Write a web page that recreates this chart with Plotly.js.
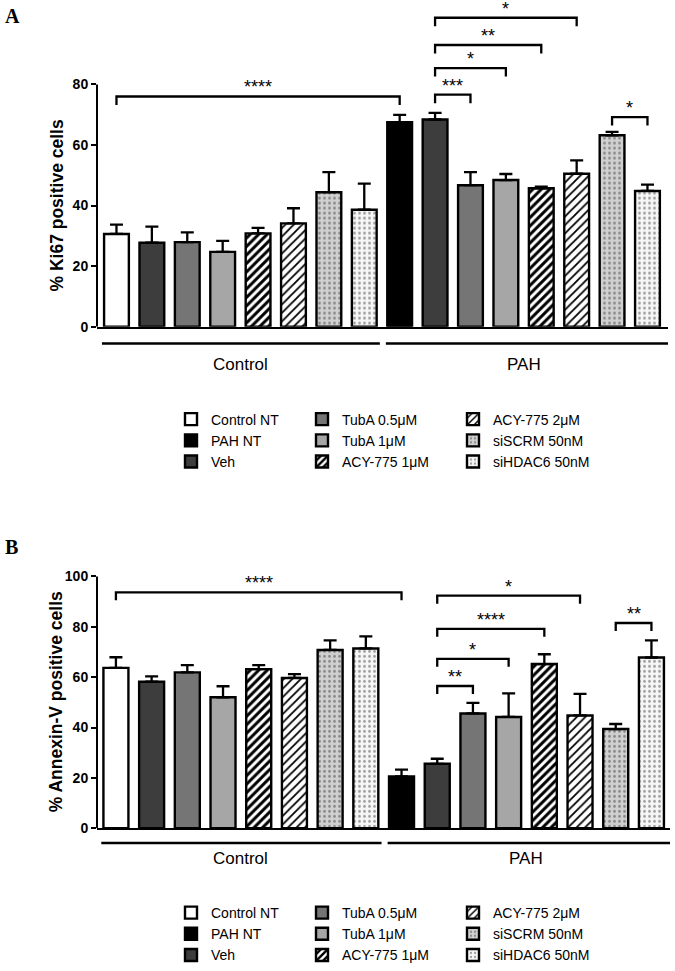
<!DOCTYPE html>
<html>
<head>
<meta charset="utf-8">
<script src="https://cdn.plot.ly/plotly-3.0.1.min.js"></script>
<style>
  body { margin: 0; background: #fff; }
  #graph { width: 675px; height: 971px; }
</style>
</head>
<body>
<div id="graph"></div>
<script>
// Donnees
var groups = ['Control', 'PAH'];
var treatments = ['Control NT', 'PAH NT', 'Veh', 'TubA 0.5\u03bcM', 'TubA 1\u03bcM', 'ACY-775 1\u03bcM', 'ACY-775 2\u03bcM', 'siSCRM 50nM', 'siHDAC6 50nM'];

// ordre des barres (gauche -> droite)
var barTreatment = ['Control NT', 'Veh', 'TubA 0.5\u03bcM', 'TubA 1\u03bcM', 'ACY-775 1\u03bcM', 'ACY-775 2\u03bcM', 'siSCRM 50nM', 'siHDAC6 50nM',
                    'PAH NT', 'Veh', 'TubA 0.5\u03bcM', 'TubA 1\u03bcM', 'ACY-775 1\u03bcM', 'ACY-775 2\u03bcM', 'siSCRM 50nM', 'siHDAC6 50nM'];
var barGroup = ['Control', 'Control', 'Control', 'Control', 'Control', 'Control', 'Control', 'Control',
                'PAH', 'PAH', 'PAH', 'PAH', 'PAH', 'PAH', 'PAH', 'PAH'];

// A : % Ki67
var ki67Mean = [30.6, 27.7, 27.9, 24.7, 30.8, 34.1, 44.4, 38.6, 67.5, 68.4, 46.7, 48.4, 45.7, 50.5, 63.2, 44.8];
var ki67Sem = [3.1, 5.3, 3.2, 3.6, 1.8, 5.0, 6.6, 8.6, 2.4, 2.2, 4.3, 2.0, 0.5, 4.4, 1.1, 2.1];
var ki67Ticks = [0, 20, 40, 60, 80];
// [barre debut, barre fin, etoiles, hauteur]
var ki67Stats = [[0, 8, '****', 76.0], [9, 10, '***', 76.6], [9, 11, '*', 85.4], [9, 12, '**', 93.0], [9, 13, '*', 102.0], [14, 15, '*', 69.2]];

// B : % Annexin-V
var annexinMean = [63.7, 58.2, 61.9, 52.0, 63.2, 59.7, 70.8, 71.4, 20.6, 25.6, 45.6, 44.2, 65.2, 44.8, 39.4, 67.8];
var annexinSem = [4.2, 2.1, 2.9, 4.4, 1.6, 1.5, 3.8, 4.8, 2.7, 2.0, 4.2, 9.4, 3.9, 8.6, 2.0, 6.8];
var annexinTicks = [0, 20, 40, 60, 80, 100];
var annexinStats = [[0, 8, '****', 93.7], [9, 10, '**', 56.5], [9, 11, '*', 67.3], [9, 12, '****', 79.2], [9, 13, '*', 92.4], [14, 15, '**', 81.5]];

var W = 675, H = 971;
function px(x) { return x / W; }
function py(y) { return (H - y) / H; }

var FONT = 'Liberation Sans, Arial, sans-serif';

// style de chaque traitement
var styles = {
  'Control NT':   { color: '#ffffff' },
  'PAH NT':       { color: '#000000' },
  'Veh':          { color: '#3d3d3d' },
  'TubA 0.5\u03bcM': { color: '#757575' },
  'TubA 1\u03bcM':   { color: '#a6a6a6' },
  'ACY-775 1\u03bcM': { color: '#ffffff', pattern: { shape: '/', bgcolor: '#ffffff', fgcolor: '#000000', size: 6, solidity: 0.5 } },
  'ACY-775 2\u03bcM': { color: '#ffffff', pattern: { shape: '/', bgcolor: '#ffffff', fgcolor: '#000000', size: 6, solidity: 0.3 } },
  'siSCRM 50nM':  { color: '#d0d0d0', pattern: { shape: '.', bgcolor: '#d0d0d0', fgcolor: '#8a8a8a', size: 5, solidity: 0.25 } },
  'siHDAC6 50nM': { color: '#f6f6f6', pattern: { shape: '.', bgcolor: '#f6f6f6', fgcolor: '#a0a0a0', size: 5, solidity: 0.25 } }
};

function makeTraces(means, sems, xa, ya, legendIds) {
  var traces = [];
  for (var t = 0; t < treatments.length; t++) {
    var name = treatments[t];
    var xs = [], ys = [], es = [], zs = [];
    for (var i = 0; i < barTreatment.length; i++) {
      if (barTreatment[i] === name) {
        xs.push(i); ys.push(means[i]); es.push(sems[i]); zs.push(0);
      }
    }
    var st = styles[name];
    var marker = { color: st.color, line: { color: '#000', width: 2.4 } };
    if (st.pattern) marker.pattern = st.pattern;
    traces.push({
      type: 'bar', name: name, x: xs, y: ys, width: 0.7,
      xaxis: xa, yaxis: ya,
      legend: legendIds[Math.floor(t / 3)],
      marker: marker,
      error_y: { type: 'data', symmetric: false, array: es, arrayminus: zs, color: '#000', thickness: 2.3, width: 6.5 }
    });
  }
  return traces;
}

function addStats(stats, xa, ya, drop, shapes, annotations) {
  for (var k = 0; k < stats.length; k++) {
    var s = stats[k];
    shapes.push({
      type: 'path', xref: xa, yref: ya,
      path: 'M' + s[0] + ',' + (s[3] - drop) + ' L' + s[0] + ',' + s[3] + ' L' + s[1] + ',' + s[3] + ' L' + s[1] + ',' + (s[3] - drop),
      line: { color: '#000', width: 2.3 }
    });
    annotations.push({
      xref: xa, yref: ya, x: (s[0] + s[1]) / 2, y: s[3], text: s[2], showarrow: false,
      xanchor: 'center', yanchor: 'bottom', yshift: -3, font: { family: FONT, size: 18, color: '#000' }
    });
  }
}

var data = makeTraces(ki67Mean, ki67Sem, 'x', 'y', ['legend', 'legend2', 'legend3'])
  .concat(makeTraces(annexinMean, annexinSem, 'x2', 'y2', ['legend4', 'legend5', 'legend6']));

var shapes = [];
var annotations = [];

// axes y dessines jusqu'au dernier tick
shapes.push({ type: 'line', xref: 'paper', yref: 'y', x0: px(97), x1: px(97), y0: 0, y1: 80, line: { color: '#000', width: 2 } });
shapes.push({ type: 'line', xref: 'paper', yref: 'y2', x0: px(97), x1: px(97), y0: 0, y1: 100, line: { color: '#000', width: 2 } });

// traits de groupe Control / PAH
var groupLines = [[-0.41, 7.44], [7.61, 15.58]];
for (var g = 0; g < groups.length; g++) {
  shapes.push({ type: 'line', xref: 'x', yref: 'paper', x0: groupLines[g][0], x1: groupLines[g][1], y0: py(346), y1: py(346), line: { color: '#000', width: 2.5 } });
  shapes.push({ type: 'line', xref: 'x2', yref: 'paper', x0: groupLines[g][0], x1: groupLines[g][1], y0: py(849), y1: py(849), line: { color: '#000', width: 2.5 } });
  annotations.push({ xref: 'x', yref: 'paper', x: 3.5 + 8 * g, y: py(367), xanchor: 'center', yanchor: 'middle', text: groups[g], showarrow: false, font: { family: FONT, size: 17, color: '#000' } });
  annotations.push({ xref: 'x2', yref: 'paper', x: 3.5 + 8 * g, y: py(865), xanchor: 'center', yanchor: 'middle', text: groups[g], showarrow: false, font: { family: FONT, size: 17, color: '#000' } });
}

addStats(ki67Stats, 'x', 'y', 2.8, shapes, annotations);
addStats(annexinStats, 'x2', 'y2', 3.2, shapes, annotations);

// titres des axes y et lettres des panneaux
annotations.push({ xref: 'paper', yref: 'y', x: px(57), y: 40, xanchor: 'center', yanchor: 'middle', text: '% Ki67 positive cells', textangle: -90, showarrow: false,
  font: { family: FONT, size: 17.5, color: '#000', weight: 'bold' } });
annotations.push({ xref: 'paper', yref: 'y2', x: px(56), y: 50, xanchor: 'center', yanchor: 'middle', text: '% Annexin-V positive cells', textangle: -90, showarrow: false,
  font: { family: FONT, size: 17.5, color: '#000', weight: 'bold' } });
annotations.push({ xref: 'paper', yref: 'paper', x: px(3), y: py(16), xanchor: 'left', yanchor: 'middle', text: 'A', showarrow: false,
  font: { family: 'Liberation Serif, Times New Roman, serif', size: 20, color: '#000', weight: 'bold' } });
annotations.push({ xref: 'paper', yref: 'paper', x: px(3), y: py(551), xanchor: 'left', yanchor: 'middle', text: 'B', showarrow: false,
  font: { family: 'Liberation Serif, Times New Roman, serif', size: 20, color: '#000', weight: 'bold' } });

function yAxis(domain, range, ticks) {
  return {
    domain: domain, range: range, tickvals: ticks, ticks: 'outside', ticklen: 5, tickwidth: 2, tickcolor: '#000',
    showline: false, showgrid: false, zeroline: false,
    tickfont: { family: FONT, size: 14, color: '#000', weight: 'bold' }
  };
}
function xAxis(domain, range, anchor) {
  return {
    domain: domain, range: range, anchor: anchor, showline: true, linewidth: 2, linecolor: '#000',
    showticklabels: false, ticks: '', showgrid: false, zeroline: false
  };
}
function legendAt(x, y) {
  return {
    x: x, y: y, xanchor: 'left', yanchor: 'top', bgcolor: 'rgba(0,0,0,0)', borderwidth: 0,
    tracegroupgap: 0, itemwidth: 30, font: { family: FONT, size: 14, color: '#000' }
  };
}

var legendCols = [px(171), px(302), px(453)];

var layout = {
  width: W, height: H,
  margin: { l: 0, r: 0, t: 0, b: 0 },
  paper_bgcolor: '#fff', plot_bgcolor: 'rgba(0,0,0,0)',
  barmode: 'overlay',
  showlegend: true,
  xaxis: xAxis([px(97), px(668)], [-0.55, 15.58], 'y'),
  yaxis: yAxis([py(329), py(5.7)], [0, 106], ki67Ticks),
  xaxis2: xAxis([px(97), px(670)], [-0.53, 15.52], 'y2'),
  yaxis2: yAxis([py(834.3), py(573)], [0, 103], annexinTicks),
  legend: legendAt(legendCols[0], py(406.5)),
  legend2: legendAt(legendCols[1], py(406.5)),
  legend3: legendAt(legendCols[2], py(406.5)),
  legend4: legendAt(legendCols[0], py(903.5)),
  legend5: legendAt(legendCols[1], py(903.5)),
  legend6: legendAt(legendCols[2], py(903.5)),
  shapes: shapes,
  annotations: annotations
};

Plotly.newPlot('graph', data, layout, { staticPlot: true, displayModeBar: false });
</script>
</body>
</html>
